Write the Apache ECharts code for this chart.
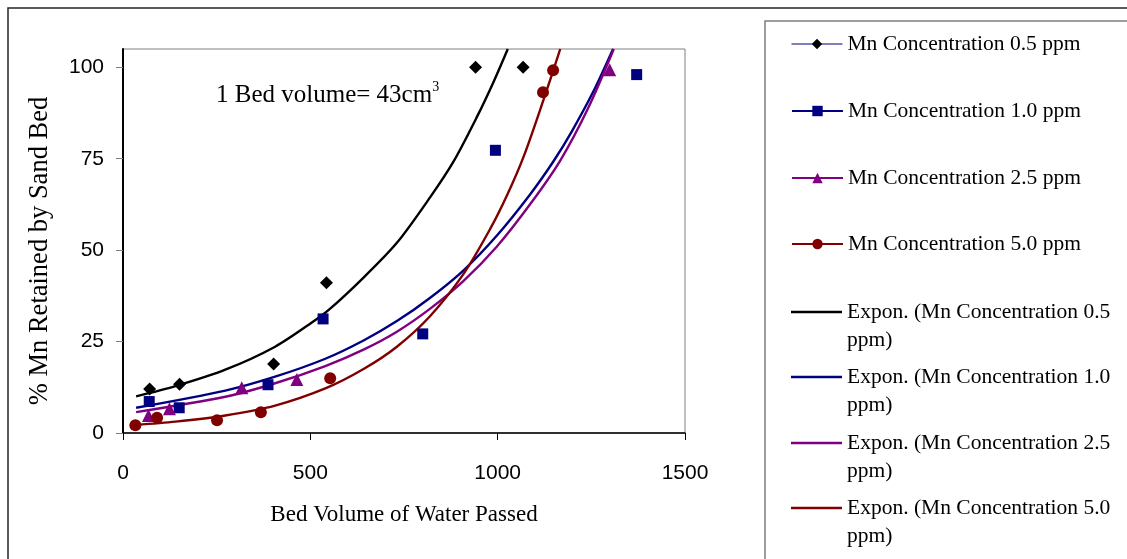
<!DOCTYPE html>
<html>
<head>
<meta charset="utf-8">
<script src="https://cdn.jsdelivr.net/npm/echarts@6/dist/echarts.min.js"></script>
<style>
html,body{margin:0;padding:0;background:#fff;}
#chart{width:1127px;height:559px;}
</style>
</head>
<body>
<div id="chart"></div>
<script>
// ---- data ----
const xTicks = [0, 500, 1000, 1500];
const yTicks = [0, 25, 50, 75, 100];

const dataNames = ['Mn Concentration 0.5 ppm', 'Mn Concentration 1.0 ppm', 'Mn Concentration 2.5 ppm', 'Mn Concentration 5.0 ppm'];
const trendNames = ['Expon. (Mn Concentration 0.5 ppm)', 'Expon. (Mn Concentration 1.0 ppm)', 'Expon. (Mn Concentration 2.5 ppm)', 'Expon. (Mn Concentration 5.0 ppm)'];

const mn05 = [[71, 12.0], [151, 13.3], [402, 18.9], [543, 41.1], [941, 100], [1068, 100]];
const mn10 = [[70, 8.6], [150, 6.9], [387, 13.2], [534, 31.2], [800, 27.1], [994, 77.3], [1371, 98.0]];
const mn25 = [[68, 4.8], [124, 6.6], [317, 12.4], [464, 14.6], [1299, 99.3]];
const mn50 = [[33, 2.1], [91, 4.2], [251, 3.5], [368, 5.7], [553, 15.0], [1121, 93.2], [1148, 99.2]];

// trend lines: points
const trend05 = [[35, 10.0], [140, 12.8], [273, 17.3], [406, 23.6], [504, 30.2], [553, 34.0], [642, 42.5], [731, 52.0], [820, 64.5], [882, 74.2], [945, 86.5], [989, 96.0], [1027, 105]];
const trend10 = [[35, 6.9], [273, 11.6], [406, 15.4], [540, 20.3], [642, 25.3], [731, 30.6], [820, 37.0], [909, 44.5], [998, 54.0], [1087, 65.3], [1149, 74.3], [1198, 82.5], [1256, 93.5], [1308, 105]];
const trend25 = [[35, 5.7], [273, 9.9], [406, 13.6], [540, 18.3], [642, 22.8], [731, 27.7], [820, 34.0], [909, 41.6], [998, 51.0], [1087, 62.6], [1167, 74.5], [1240, 88.5], [1310, 105]];
const trend50 = [[33, 2.2], [140, 3.1], [273, 4.8], [406, 7.5], [540, 12.2], [642, 17.5], [731, 23.6], [820, 32.0], [909, 43.5], [980, 55.8], [1025, 65.0], [1069, 75.5], [1122, 91.0], [1167, 105]];

// ---- styles ----
const colors = ['#000000', '#000080', '#800080', '#800000'];
const symbols = ['diamond', 'rect', 'triangle', 'circle'];
const symbolSizes = [13, 11, 13, 12];
const legendLineColors = ['#000080', '#000080', '#800080', '#800000'];
const legendLineWidths = [1, 2, 2, 2];
const legendCenters = [44, 111, 178, 244, 313, 378, 444, 509];

const serif = 'Liberation Serif';
const sans = 'Liberation Sans';

const dataSets = [mn05, mn10, mn25, mn50];
const trendSets = [trend05, trend10, trend25, trend50];

const series = [];
trendSets.forEach((d, i) => {
  series.push({
    name: trendNames[i], type: 'line', data: d, smooth: 0.3, symbol: 'none',
    lineStyle: {color: colors[i], width: 2.4}, itemStyle: {color: colors[i]},
    z: 2, silent: true, animation: false, clip: true
  });
});
dataSets.forEach((d, i) => {
  series.push({
    name: dataNames[i], type: 'line', data: d, symbol: symbols[i], symbolSize: symbolSizes[i],
    showSymbol: true, lineStyle: {opacity: 0, color: colors[i]},
    itemStyle: {color: colors[i], borderWidth: 0, opacity: 1},
    z: 3, silent: true, animation: false
  });
});

const legends = [];
dataNames.forEach((n, i) => {
  legends.push({
    data: [{name: n, lineStyle: {color: legendLineColors[i], width: legendLineWidths[i], opacity: 1}, itemStyle: {color: colors[i], opacity: 1}}],
    left: 791, top: legendCenters[i] - 12, padding: 0, itemWidth: 51, itemHeight: 13,
    selectedMode: false,
    textStyle: {fontFamily: serif, fontSize: 21.5, lineHeight: 24, color: '#000'}
  });
});
trendNames.forEach((n, i) => {
  legends.push({
    data: [{name: n, icon: 'rect', itemStyle: {color: colors[i], opacity: 1}}],
    left: 791, top: legendCenters[4 + i] - 43, padding: 0, itemWidth: 51, itemHeight: 2.4,
    selectedMode: false,
    formatter: s => '\n' + s.replace(' ppm)', '\nppm)'),
    textStyle: {fontFamily: serif, fontSize: 21.5, lineHeight: 28, color: '#000'}
  });
});

const chart = echarts.init(document.getElementById('chart'), null, {renderer: 'canvas'});
chart.setOption({
  animation: false,
  backgroundColor: '#ffffff',
  grid: {left: 123, top: 49, width: 562, height: 384, show: true, borderColor: '#808080', borderWidth: 1, containLabel: false, outerBoundsMode: 'none'},
  xAxis: {
    type: 'value', min: 0, max: 1500, interval: 500,
    axisLine: {show: true, onZero: false, lineStyle: {color: '#000', width: 1.5}},
    axisTick: {show: true, length: 7, lineStyle: {color: '#000'}, customValues: xTicks},
    axisLabel: {fontFamily: sans, fontSize: 21, color: '#000', margin: 30, customValues: xTicks, formatter: v => String(v)},
    splitLine: {show: false},
    name: 'Bed Volume of Water Passed', nameLocation: 'middle', nameGap: 70,
    nameTextStyle: {fontFamily: serif, fontSize: 23, color: '#000'}
  },
  yAxis: {
    type: 'value', min: 0, max: 105, interval: 25,
    axisLine: {show: true, onZero: false, lineStyle: {color: '#000', width: 2}},
    axisTick: {show: true, length: 7, lineStyle: {color: '#808080'}, customValues: yTicks},
    axisLabel: {fontFamily: sans, fontSize: 21, color: '#000', margin: 19, customValues: yTicks, formatter: v => String(v)},
    splitLine: {show: false},
    name: '% Mn Retained by Sand Bed', nameLocation: 'middle', nameGap: 69, nameRotate: 90,
    nameTextStyle: {fontFamily: serif, fontSize: 26.5, color: '#000', padding: [0, 20, 0, 0]}
  },
  legend: legends,
  graphic: [
    {type: 'rect', shape: {x: 8, y: 8, width: 1300, height: 700}, style: {fill: 'none', stroke: '#262626', lineWidth: 1.5}, silent: true, z: -10},
    {type: 'rect', shape: {x: 765, y: 21, width: 500, height: 700}, style: {fill: '#fff', stroke: '#7f7f7f', lineWidth: 1.5}, silent: true, z: -5},
    {type: 'text', left: 216, top: 80, silent: true,
      style: {text: '{a|1 Bed volume= 43cm}{s|3}',
        rich: {a: {fontFamily: serif, fontSize: 25, lineHeight: 30, fill: '#000'},
               s: {fontFamily: serif, fontSize: 14, lineHeight: 14, verticalAlign: 'top', fill: '#000'}}}}
  ],
  series: series
});
</script>
</body>
</html>
